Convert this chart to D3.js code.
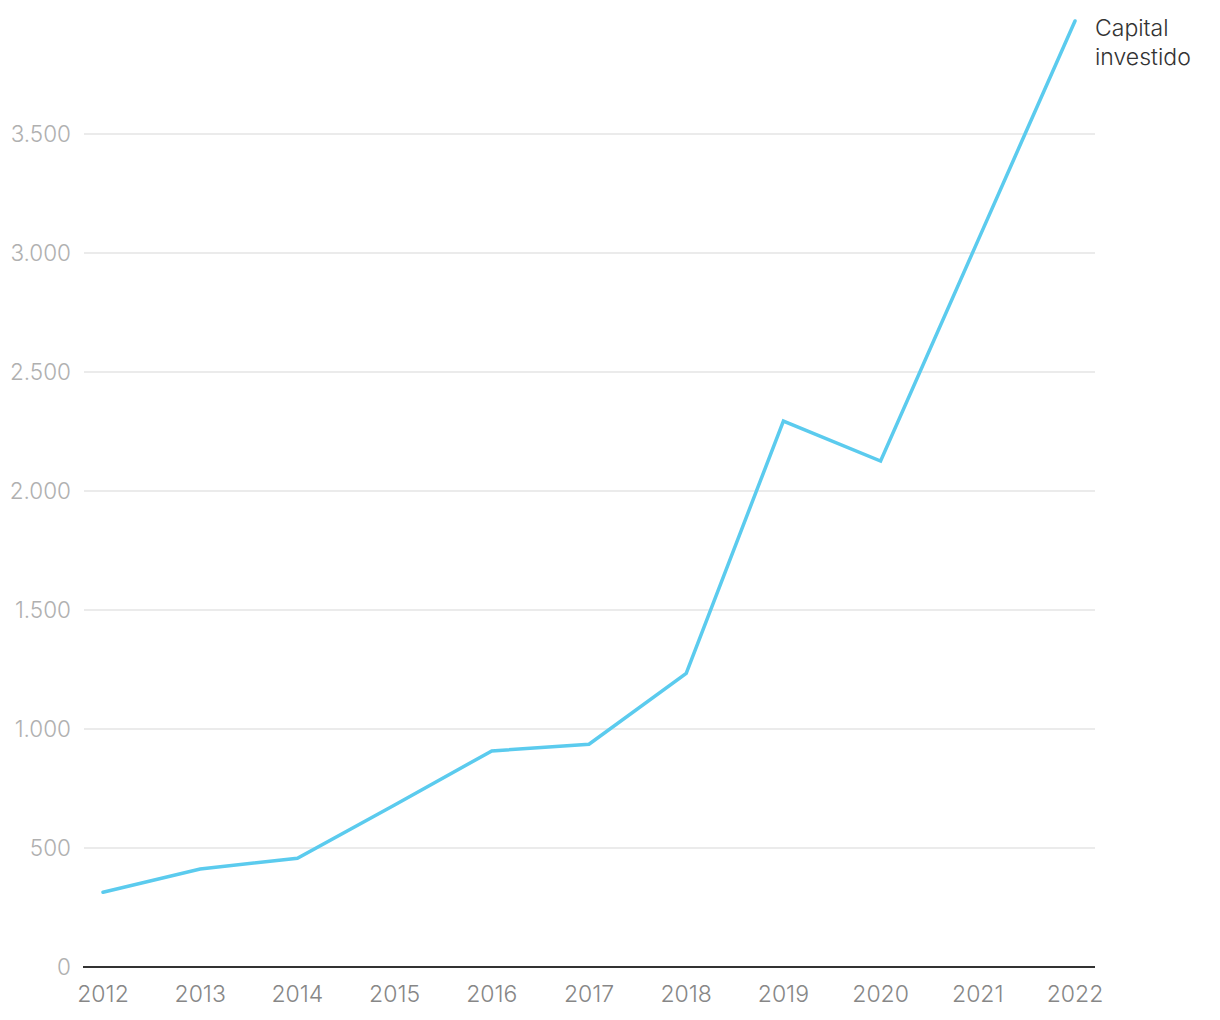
<!DOCTYPE html>
<html>
<head>
<meta charset="utf-8">
<script src="https://cdn.jsdelivr.net/npm/d3@7"></script>
<style>
  html, body { margin: 0; padding: 0; background: #fff; }
  svg { display: block; font-family: Inter, "Noto Sans", sans-serif; }
</style>
</head>
<body>
<svg id="chart" width="1220" height="1020"></svg>
<script>
const years = [2012, 2013, 2014, 2015, 2016, 2017, 2018, 2019, 2020, 2021, 2022];
const capitalInvestido = [314, 412, 457, 681, 908, 936, 1234, 2294, 2126, 3051, 3975];
const yTicks = [0, 500, 1000, 1500, 2000, 2500, 3000, 3500];
const seriesLabel = ["Capital", "investido"];

const svg = d3.select("#chart");
const x = d3.scaleLinear().domain([2012, 2022]).range([103, 1075]);
const y = d3.scaleLinear().domain([0, 4000]).range([967, 15]);
const locale = d3.formatLocale({decimal: ",", thousands: ".", grouping: [3], currency: ["", ""]});
const fmt = locale.format(",");

// gridlines
svg.append("g").selectAll("line")
  .data(yTicks.filter(d => d > 0))
  .join("line")
  .attr("x1", 84).attr("x2", 1095)
  .attr("y1", d => y(d)).attr("y2", d => y(d))
  .attr("stroke", "#e4e4e4").attr("stroke-width", 1.5);

// y labels
svg.append("g").selectAll("text")
  .data(yTicks)
  .join("text")
  .attr("x", 71).attr("y", d => y(d))
  .attr("dy", "0.36em")
  .attr("text-anchor", "end")
  .attr("fill", "#b0b0b0")
  .attr("font-size", 22.5)
  .attr("font-weight", 300)
  .text(d => fmt(d));

// baseline
svg.append("line")
  .attr("x1", 83).attr("x2", 1095)
  .attr("y1", y(0)).attr("y2", y(0))
  .attr("stroke", "#333").attr("stroke-width", 2);

// x labels
svg.append("g").selectAll("text")
  .data(years)
  .join("text")
  .attr("x", d => x(d)).attr("y", 1002)
  .attr("text-anchor", "middle")
  .attr("fill", "#878787")
  .attr("font-size", 23)
  .attr("font-weight", 300)
  .text(d => d);

// line
const line = d3.line().x((d, i) => x(years[i])).y(d => y(d));
svg.append("path")
  .datum(capitalInvestido)
  .attr("d", line)
  .attr("fill", "none")
  .attr("stroke", "#5bcbee")
  .attr("stroke-width", 3.5)
  .attr("stroke-linejoin", "miter")
  .attr("stroke-linecap", "round");

// series label
svg.append("text")
  .attr("x", 1095).attr("y", 36)
  .attr("fill", "#333")
  .attr("font-size", 23)
  .attr("font-weight", 300)
  .selectAll("tspan")
  .data(seriesLabel)
  .join("tspan")
  .attr("x", 1095)
  .attr("dy", (d, i) => i === 0 ? 0 : 29)
  .text(d => d);
</script>
</body>
</html>
